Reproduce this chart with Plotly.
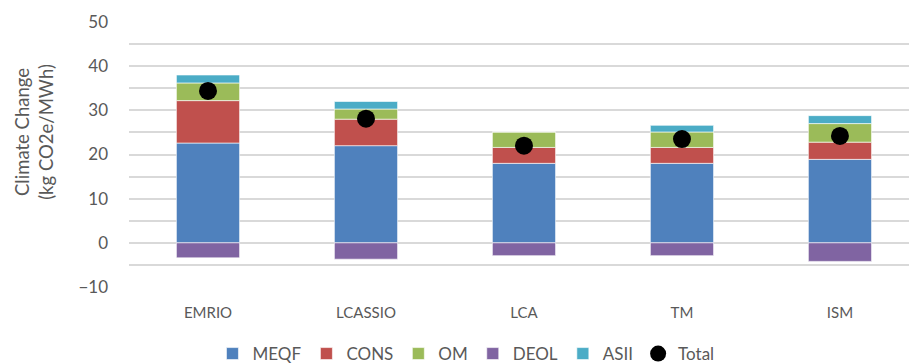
import plotly.graph_objects as go

# Life-cycle stage contributions per assessment method (kg CO2e/MWh)
methods = ["EMRIO", "LCASSIO", "LCA", "TM", "ISM"]
meqf = [22.6, 22.0, 18.0, 18.0, 18.9]
cons = [9.6, 6.0, 3.6, 3.6, 3.9]
om = [4.0, 2.3, 3.5, 3.5, 4.2]
deol = [-3.4, -3.7, -2.9, -2.9, -4.2]
asii = [1.8, 1.7, 0.0, 1.5, 1.8]
total = [34.4, 28.1, 22.0, 23.5, 24.2]

y_major = [-10, 0, 10, 20, 30, 40, 50]

font_family = "Lato, Open Sans, sans-serif"
text_color = "#595959"
grid_color = "#D9D9D9"

series = [
    ("MEQF", meqf, "#4F81BD"),
    ("CONS", cons, "#C0504D"),
    ("OM", om, "#9BBB59"),
    ("DEOL", deol, "#8064A2"),
    ("ASII", asii, "#4BACC6"),
]

fig = go.Figure()
for name, vals, color in series:
    fig.add_trace(go.Bar(
        x=methods, y=vals, name=name, width=0.4,
        marker=dict(color=color, line=dict(color="rgba(255,255,255,0.6)", width=1)),
    ))

fig.add_trace(go.Scatter(
    x=methods, y=total, name="Total", mode="markers",
    marker=dict(color="black", size=18, symbol="circle"),
))

fig.update_layout(
    barmode="relative",
    width=909, height=364,
    margin=dict(l=129, r=0, t=22, b=77, autoexpand=False),
    paper_bgcolor="white", plot_bgcolor="white",
    font=dict(family=font_family, color=text_color, size=15),
    legend=dict(
        orientation="h", x=0.432, xanchor="center", y=-0.185, yanchor="top",
        font=dict(size=17, color=text_color), itemwidth=30,
        traceorder="normal", tracegroupgap=0,
    ),
    showlegend=True,
    annotations=[dict(
        text="Climate Change<br>(kg CO2e/MWh)",
        xref="paper", yref="paper", x=-0.122, y=0.585,
        xanchor="center", yanchor="middle", textangle=-90,
        showarrow=False, font=dict(size=18.5, color=text_color),
    )],
)

fig.update_xaxes(
    range=[-0.5, 4.437],
    showgrid=False, zeroline=False, showline=False,
    tickfont=dict(size=15, color=text_color),
    ticks="", ticklabelstandoff=15,
)

fig.update_yaxes(
    range=[-10, 50],
    tickvals=y_major,
    showgrid=True, gridcolor=grid_color, gridwidth=1.5,
    minor=dict(dtick=5, tick0=0, showgrid=True, gridcolor=grid_color, gridwidth=1.5, ticks=""),
    zeroline=True, zerolinecolor=grid_color, zerolinewidth=1.5,
    showline=False, ticks="",
    tickfont=dict(size=17, color=text_color),
    ticklabelstandoff=20,
)

fig.write_html("out.html")
